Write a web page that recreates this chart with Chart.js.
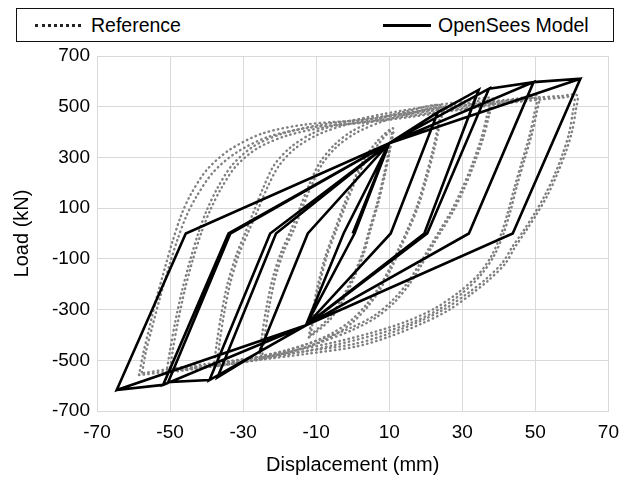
<!DOCTYPE html>
<html>
<head>
<meta charset="utf-8">
<script src="https://cdn.jsdelivr.net/npm/chart.js@4"></script>
<style>
  html, body { margin: 0; padding: 0; background: #fff; }
  #wrap { position: relative; width: 629px; height: 479px; overflow: hidden; }
  #chart { position: absolute; left: 0; top: 0; }
  #legend {
    position: absolute; left: 16px; top: 8px; width: 596px; height: 32px;
    border: 1.5px solid #111; background: #fff;
    font: 19.5px "Liberation Sans", Arial, sans-serif; color: #000;
  }
  .item { position: absolute; top: 0; height: 32px; display: flex; align-items: center; white-space: nowrap; }
  .dots { width: 46px; height: 0; border-top: 3px dotted #222; margin-right: 10px; }
  .solid { width: 48px; height: 0; border-top: 3px solid #000; margin-right: 7px; }
</style>
</head>
<body>
<div id="wrap">
  <canvas id="chart" width="629" height="479"></canvas>
  <div id="legend">
    <div class="item" style="left:18px"><span class="dots"></span>Reference</div>
    <div class="item" style="left:366px"><span class="solid"></span>OpenSees Model</div>
  </div>
</div>
<script>
// axis ticks
const xTicks = [-70, -50, -30, -10, 10, 30, 50, 70];
const yTicks = [-700, -500, -300, -100, 100, 300, 500, 700];

// OpenSees model: piecewise-linear hysteresis path (mm, kN)
const modelDisp = [
  0, 10, 0.5, -12.8, -2.5, 10,
  23.3, 10.4, -12.8, -25.5, -12.3, 10,
  23.3, 10.4, -12.8, -25.5, -12.3, 10,
  23.3, 34.5, 19.6, -12.8, -25.5, -37.0, -21.0, 10,
  37.3, 20.4, -12.8, -39.2, -22.6, 10,
  37.3, 49.5, 31.8, -12.8, -39.2, -50.5, -33.5, 10,
  49.5, 31.8, -12.8, -51.9, -34.0, 10,
  49.5, 62.3, 43.8, -12.8, -51.9, -64.6, -45.7, 10,
  62.3, 43.8, -12.8, -64.6, -45.7, 10, 62.3
];
const modelLoad = [
  0, 356, 0, -362, 0, 356,
  478, 0, -362, -466, 0, 356,
  478, 0, -362, -466, 0, 356,
  478, 567, 0, -362, -466, -567, 0, 356,
  571, 0, -362, -578, 0, 356,
  571, 597, 0, -362, -578, -586, 0, 356,
  597, 0, -362, -597, 0, 356,
  597, 610, 0, -362, -597, -617, 0, 356,
  610, 0, -362, -617, 0, 356, 610
];

// Reference test loops, two cycles per amplitude (loading then unloading branch)
const refAmp1X = [
  -12.0, -11.0, -9.5, -7.5, -5.0, -2.5, 0.0, 3.0, 6.5, 11.0,
  10.2, 8.8, 7.0, 5.0, 3.0, 0.5, -2.5, -6.5, -12.0,
  -11.5, -10.5, -9.0, -7.0, -4.5, -2.0, 0.5, 3.5, 7.0, 10.6,
  9.8, 8.4, 6.6, 4.6, 2.6, 0.1, -2.9, -6.7, -11.5
];
const refAmp1Y = [
  -410, -310, -200, -90, 10, 110, 200, 290, 360, 415,
  330, 230, 120, 20, -80, -170, -260, -345, -410,
  -400, -302, -195, -86, 12, 108, 198, 285, 352, 405,
  322, 224, 116, 18, -80, -168, -255, -336, -400
];
const refAmp2X = [
  -25.5, -24.8, -23.6, -21.8, -19.5, -17.0, -14.5, -12.0, -9.0, -5.0, 0.0, 7.0, 15.0, 24.5,
  23.8, 22.3, 20.3, 18.0, 15.5, 13.0, 10.5, 7.5, 4.0, 0.0, -5.0, -12.0, -18.5, -25.5,
  -24.8, -24.0, -22.8, -21.0, -18.7, -16.2, -13.8, -11.3, -8.3, -4.3, 0.8, 7.8, 15.5, 24.0,
  23.3, 21.8, 19.8, 17.5, 15.0, 12.5, 10.0, 7.0, 3.5, -0.5, -5.5, -12.2, -18.5, -24.8
];
const refAmp2Y = [
  -490, -400, -290, -170, -70, 10, 100, 190, 280, 350, 405, 450, 483, 505,
  430, 330, 220, 110, 20, -60, -140, -220, -290, -350, -400, -445, -472, -490,
  -482, -395, -285, -165, -65, 12, 100, 188, 275, 343, 396, 440, 472, 495,
  422, 322, 214, 105, 16, -62, -140, -216, -284, -343, -392, -435, -462, -482
];
const refAmp3X = [
  -38.0, -37.2, -36.0, -34.3, -32.0, -29.5, -27.0, -24.5, -21.5, -17.0, -11.0, -3.0, 8.0, 20.0, 30.0, 38.2,
  37.4, 35.8, 33.4, 30.6, 27.6, 24.5, 22.0, 19.0, 15.5, 11.5, 6.5, 0.0, -8.0, -18.0, -28.0, -38.0,
  -37.2, -36.4, -35.2, -33.5, -31.2, -28.6, -26.0, -23.4, -20.3, -15.8, -9.8, -2.0, 9.0, 21.0, 30.5, 37.5,
  36.7, 35.1, 32.7, 29.9, 26.9, 23.8, 21.3, 18.3, 14.8, 10.8, 5.8, -0.7, -8.7, -18.5, -28.0, -37.2
];
const refAmp3Y = [
  -525, -430, -320, -200, -90, 0, 90, 180, 270, 340, 395, 435, 470, 500, 520, 533,
  470, 380, 280, 180, 90, 15, -45, -120, -200, -270, -330, -380, -425, -470, -500, -525,
  -518, -425, -315, -195, -85, 5, 92, 180, 265, 335, 388, 428, 462, 492, 512, 522,
  462, 372, 273, 175, 87, 12, -48, -120, -198, -265, -325, -373, -417, -462, -492, -518
];
const refAmp4X = [
  -51.0, -50.0, -48.6, -46.8, -44.6, -42.3, -40.0, -37.0, -33.0, -27.0, -19.0, -9.0, 5.0, 20.0, 35.0, 45.0, 50.9,
  50.4, 49.0, 47.0, 45.0, 43.2, 41.3, 38.8, 35.0, 30.0, 23.5, 15.5, 6.0, -5.0, -17.0, -29.0, -40.0, -51.0,
  -50.2, -49.2, -47.8, -46.0, -43.8, -41.4, -39.0, -36.0, -32.0, -26.0, -18.0, -8.0, 6.0, 21.0, 35.5, 45.0, 50.2,
  49.7, 48.3, 46.3, 44.3, 42.5, 40.6, 38.0, 34.2, 29.0, 22.5, 14.5, 5.0, -6.0, -18.0, -29.5, -40.0, -50.2
];
const refAmp4Y = [
  -548, -460, -350, -230, -110, 0, 90, 180, 270, 345, 395, 428, 455, 485, 515, 532, 542,
  480, 390, 290, 190, 90, 0, -85, -165, -235, -300, -355, -400, -440, -475, -505, -528, -548,
  -542, -455, -345, -225, -105, 5, 92, 178, 265, 337, 386, 418, 445, 475, 505, 523, 533,
  472, 382, 283, 183, 85, -3, -88, -165, -232, -295, -348, -392, -432, -466, -496, -520, -542
];
const refAmp5X = [
  -58.5, -57.3, -55.8, -53.8, -51.5, -49.3, -47.0, -44.5, -40.0, -33.7, -24.6, -12.8, 2.0, 15.0, 28.0, 40.0, 50.0, 57.0, 61.4,
  61.0, 60.0, 58.3, 56.0, 53.3, 50.3, 47.4, 44.5, 41.8, 37.3, 32.7, 26.3, 19.1, 10.0, 0.9, -12.8, -26.4, -40.1, -51.0, -58.5,
  -57.8, -56.6, -55.0, -52.8, -50.4, -48.0, -45.5, -42.8, -38.3, -32.0, -23.0, -11.5, 3.0, 16.0, 29.0, 41.0, 51.0, 57.5, 60.6,
  60.2, 59.2, 57.5, 55.2, 52.5, 49.6, 46.7, 43.8, 41.0, 36.6, 32.0, 25.6, 18.4, 9.3, 0.3, -13.3, -26.8, -40.3, -51.0, -57.8
];
const refAmp5Y = [
  -558, -470, -380, -260, -140, -30, 70, 150, 250, 330, 395, 430, 447, 470, 497, 520, 535, 542, 545,
  480, 400, 320, 235, 150, 75, 10, -52, -118, -183, -236, -302, -354, -407, -446, -475, -500, -525, -545, -558,
  -552, -465, -375, -255, -135, -25, 70, 145, 240, 318, 382, 418, 437, 460, 487, 512, 528, 536, 539,
  475, 395, 315, 230, 148, 75, 10, -50, -115, -178, -230, -294, -346, -398, -436, -465, -490, -515, -536, -552
];

const toPoints = (xs, ys) => xs.map((x, i) => ({ x: x, y: ys[i] }));

const refLoops = [
  [refAmp1X, refAmp1Y], [refAmp2X, refAmp2Y], [refAmp3X, refAmp3Y],
  [refAmp4X, refAmp4Y], [refAmp5X, refAmp5Y]
];

const datasets = [{
  label: 'OpenSees Model',
  data: toPoints(modelDisp, modelLoad),
  showLine: true,
  borderColor: '#000',
  borderWidth: 2.6,
  borderJoinStyle: 'miter',
  pointRadius: 0,
  tension: 0,
  order: 0
}];
refLoops.forEach(([xs, ys]) => {
  datasets.push({
    label: 'Reference',
    data: toPoints(xs, ys),
    showLine: true,
    borderColor: '#808080',
    borderWidth: 2.4,
    borderDash: [0.5, 4.2],
    borderCapStyle: 'round',
    pointRadius: 0,
    tension: 0.3,
    order: 1
  });
});

const fontFamily = '"Liberation Sans", Arial, sans-serif';
const tickFont = { family: fontFamily, size: 19 };
const titleFont = { family: fontFamily, size: 20 };
const gridColor = '#d9d9d9';

new Chart(document.getElementById('chart'), {
  type: 'scatter',
  data: { datasets: datasets },
  options: {
    responsive: false,
    animation: false,
    layout: { padding: { left: 0, right: 19, top: 56, bottom: 0 } },
    plugins: { legend: { display: false }, tooltip: { enabled: false } },
    scales: {
      x: {
        type: 'linear',
        min: -70, max: 70,
        afterBuildTicks: axis => { axis.ticks = xTicks.map(v => ({ value: v })); },
        afterFit: axis => { axis.height = 68; },
        grid: { color: gridColor, drawTicks: false },
        border: { color: gridColor },
        ticks: { color: '#000', font: tickFont, padding: 10, maxRotation: 0 },
        title: {
          display: true, text: 'Displacement (mm)', color: '#000',
          font: titleFont, padding: { top: 0, bottom: 2 }
        }
      },
      y: {
        type: 'linear',
        min: -700, max: 700,
        afterBuildTicks: axis => { axis.ticks = yTicks.map(v => ({ value: v })); },
        afterFit: axis => { axis.width = 97; },
        grid: { color: gridColor, drawTicks: false },
        border: { color: gridColor },
        ticks: { color: '#000', font: tickFont, padding: 7 },
        title: {
          display: true, text: 'Load (kN)', color: '#000',
          font: titleFont, padding: { top: 10, bottom: 0 }
        }
      }
    }
  }
});
</script>
</body>
</html>
